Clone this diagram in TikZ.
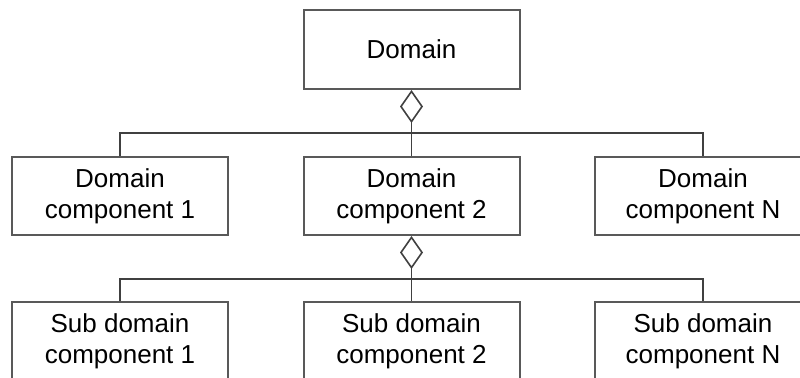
\documentclass[tikz,border=0pt]{standalone}
\usepackage{fontspec}
\setmainfont{Liberation Sans}
\usetikzlibrary{arrows.meta}

\begin{document}
\begin{tikzpicture}[
            comp/.style = { draw, black!65, text = black, line width = 1pt, minimum width = 108pt, minimum height = 39pt, inner sep = 0pt, align = center, font = \fontsize{13}{15.5}\selectfont },
            link/.style = { black!75, line width = 0.8pt },
            agg/.style = { link, {Diamond[open, length = 16.5pt, width = 11.5pt]}-{} },
            ]
            \def\oneUnit{0.5pt}

            \useasboundingbox (0,0) rectangle (800*\oneUnit,-377*\oneUnit);
            \clip (0,0) rectangle (800*\oneUnit,-377*\oneUnit);

            \node[comp, minimum height = 39.5pt] (DOM) at (411.5*\oneUnit,-49.5*\oneUnit) {Domain};

            \node[comp] (DC1) at (120*\oneUnit,-196*\oneUnit) {Domain\\component 1};
            \node[comp] (DC2) at (411.5*\oneUnit,-196*\oneUnit) {Domain\\component 2};
            \node[comp] (DCN) at (703*\oneUnit,-196*\oneUnit) {Domain\\component N};

            \node[comp] (SUB1) at (120*\oneUnit,-341*\oneUnit) {Sub domain\\component 1};
            \node[comp] (SUB2) at (411.5*\oneUnit,-341*\oneUnit) {Sub domain\\component 2};
            \node[comp] (SUBN) at (703*\oneUnit,-341*\oneUnit) {Sub domain\\component N};

            % bus lines under the diamonds
            \coordinate (busA) at (411.5*\oneUnit,-133*\oneUnit);
            \coordinate (busB) at (411.5*\oneUnit,-279*\oneUnit);

            \draw[agg] (DOM) -- (DC2);
            \draw[link] (DC1.north) |- (busA) -| (DCN.north);

            \draw[agg] (DC2) -- (SUB2);
            \draw[link] (SUB1.north) |- (busB) -| (SUBN.north);

\end{tikzpicture}
\end{document}
